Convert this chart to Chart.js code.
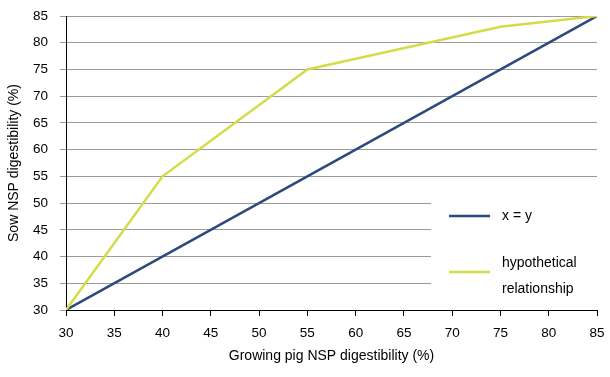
<!DOCTYPE html>
<html><head><meta charset="utf-8">
<script src="https://cdn.jsdelivr.net/npm/chart.js@4/dist/chart.umd.min.js"></script>
<style>html,body{margin:0;padding:0;background:#fff}#wrap{width:610px;height:377px}</style>
</head><body><div id="wrap"><canvas id="c" width="610" height="377"></canvas></div>
<script>
const xyX = [30, 85];
const xyY = [30, 85];
const hypX = [30, 40, 55, 75, 85];
const hypY = [30, 55, 75, 83, 85];
const seriesNames = [["x = y"], ["hypothetical", "relationship"]];
const xTitle = "Growing pig NSP digestibility (%)";
const yTitle = "Sow NSP digestibility (%)";
const colors = ["#2E4A7D", "#D4DC48"];
const FONT = "'Liberation Sans', Arial, sans-serif";

const toPts = (xs, ys) => xs.map((x, i) => ({x, y: ys[i]}));

const legendPlugin = {
  id: 'boxLegend',
  afterDraw(chart) {
    const ctx = chart.ctx;
    const ca = chart.chartArea;
    ctx.save();
    ctx.fillStyle = '#fff';
    ctx.fillRect(431, 186, ca.right - 431, 114);
    const rows = [216, 272];
    ctx.font = "14px " + FONT;
    ctx.textBaseline = 'middle';
    ctx.fillStyle = '#000';
    seriesNames.forEach((lines, i) => {
      ctx.strokeStyle = colors[i];
      ctx.lineWidth = 2.5;
      ctx.beginPath();
      ctx.moveTo(449, rows[i]);
      ctx.lineTo(490, rows[i]);
      ctx.stroke();
      lines.forEach((t, j) => {
        const y = lines.length > 1 ? rows[i] - 9 + j * 26 : rows[i];
        ctx.fillText(t, 502, y);
      });
    });
    ctx.restore();
  }
};

new Chart(document.getElementById('c'), {
  type: 'scatter',
  data: {
    datasets: [
      {label: 'x = y', data: toPts(xyX, xyY), showLine: true, borderColor: colors[0], borderWidth: 2.5, pointRadius: 0, order: 2},
      {label: 'hypothetical relationship', data: toPts(hypX, hypY), showLine: true, borderColor: colors[1], borderWidth: 2.5, pointRadius: 0, order: 1}
    ]
  },
  options: {
    responsive: false,
    animation: false,
    layout: {padding: {left: 0, right: 13, top: 16, bottom: 0}},
    plugins: {legend: {display: false}, tooltip: {enabled: false}},
    scales: {
      x: {
        type: 'linear', min: 30, max: 85,
        ticks: {stepSize: 5, color: '#000', font: {family: FONT, size: 13.5}, padding: 9, maxRotation: 0},
        grid: {drawOnChartArea: false, tickColor: '#000', tickLength: 6},
        border: {color: '#000', width: 1},
        title: {display: true, text: xTitle, color: '#000', font: {family: FONT, size: 14}, padding: {top: 4, bottom: 12}},
        afterFit(s) { s.height = 67; s.paddingLeft = 0; s.paddingRight = 0; }
      },
      y: {
        type: 'linear', min: 30, max: 85,
        ticks: {stepSize: 5, color: '#000', font: {family: FONT, size: 13.5}, padding: 12},
        grid: {color: '#9a9a9a', tickColor: '#9a9a9a', tickLength: 6, lineWidth: 1},
        border: {color: '#000', width: 1},
        title: {display: true, text: yTitle, color: '#000', font: {family: FONT, size: 14}, padding: {top: 6, bottom: 4}},
        afterFit(s) { s.width = 66; s.paddingTop = 0; s.paddingBottom = 0; }
      }
    }
  },
  plugins: [legendPlugin]
});
</script></body></html>
